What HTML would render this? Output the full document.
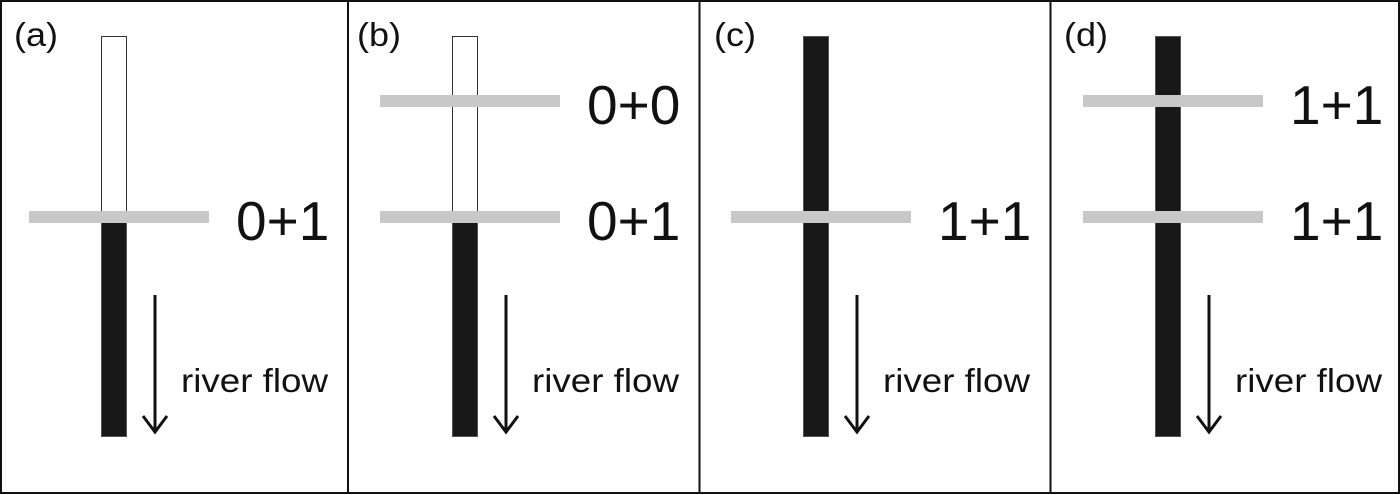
<!DOCTYPE html>
<html><head><style>
body{margin:0;background:#fff}
svg{display:block}
text{font-family:"Liberation Sans",Arial,sans-serif;fill:#111}
</style></head><body>
<svg width="1400" height="495" viewBox="0 0 1400 495">
<rect x="1" y="1" width="1398" height="492" fill="#fff" stroke="#111" stroke-width="2"/>
<line x1="348" y1="2" x2="348" y2="493" stroke="#111" stroke-width="2"/>
<line x1="699.5" y1="2" x2="699.5" y2="493" stroke="#111" stroke-width="2"/>
<line x1="1050.5" y1="2" x2="1050.5" y2="493" stroke="#111" stroke-width="2"/>
<defs>
<g id="arrow">
<line x1="155" y1="295" x2="155" y2="432" stroke="#111" stroke-width="3"/>
<polyline points="143,416 155,432 167,416" fill="none" stroke="#111" stroke-width="3"/>
<text x="181" y="392" font-size="33" textLength="147" lengthAdjust="spacingAndGlyphs">river flow</text>
</g>
</defs>
<!-- a -->
<g>
<rect x="101.5" y="36.5" width="25" height="400" fill="#fff" stroke="#333"/>
<rect x="101.5" y="217" width="25" height="219.5" fill="#181818" stroke="#555"/>
<rect x="29" y="211" width="180" height="12" fill="#c8c8c8"/>
<text x="236" y="240" font-size="55">0+1</text>
<text x="14" y="46" font-size="33" textLength="44" lengthAdjust="spacingAndGlyphs">(a)</text>
<use href="#arrow"/>
</g>
<!-- b -->
<g transform="translate(351,0)">
<rect x="101.5" y="36.5" width="25" height="400" fill="#fff" stroke="#333"/>
<rect x="101.5" y="217" width="25" height="219.5" fill="#181818" stroke="#555"/>
<rect x="29" y="95" width="180" height="12" fill="#c8c8c8"/>
<rect x="29" y="211" width="180" height="12" fill="#c8c8c8"/>
<text x="236" y="124" font-size="55">0+0</text>
<text x="236" y="240" font-size="55">0+1</text>
<text x="6" y="46" font-size="33" textLength="44" lengthAdjust="spacingAndGlyphs">(b)</text>
<use href="#arrow"/>
</g>
<!-- c -->
<g transform="translate(702,0)">
<rect x="101.5" y="36.5" width="25" height="400" fill="#181818" stroke="#555"/>
<rect x="29" y="211" width="180" height="12" fill="#c8c8c8"/>
<text x="236" y="240" font-size="55">1+1</text>
<text x="12" y="46" font-size="33" textLength="42" lengthAdjust="spacingAndGlyphs">(c)</text>
<use href="#arrow"/>
</g>
<!-- d -->
<g transform="translate(1054,0)">
<rect x="101.5" y="36.5" width="25" height="400" fill="#181818" stroke="#555"/>
<rect x="29" y="95" width="180" height="12" fill="#c8c8c8"/>
<rect x="29" y="211" width="180" height="12" fill="#c8c8c8"/>
<text x="236" y="124" font-size="55">1+1</text>
<text x="236" y="240" font-size="55">1+1</text>
<text x="10" y="46" font-size="33" textLength="44" lengthAdjust="spacingAndGlyphs">(d)</text>
<use href="#arrow"/>
</g>
</svg>
</body></html>
